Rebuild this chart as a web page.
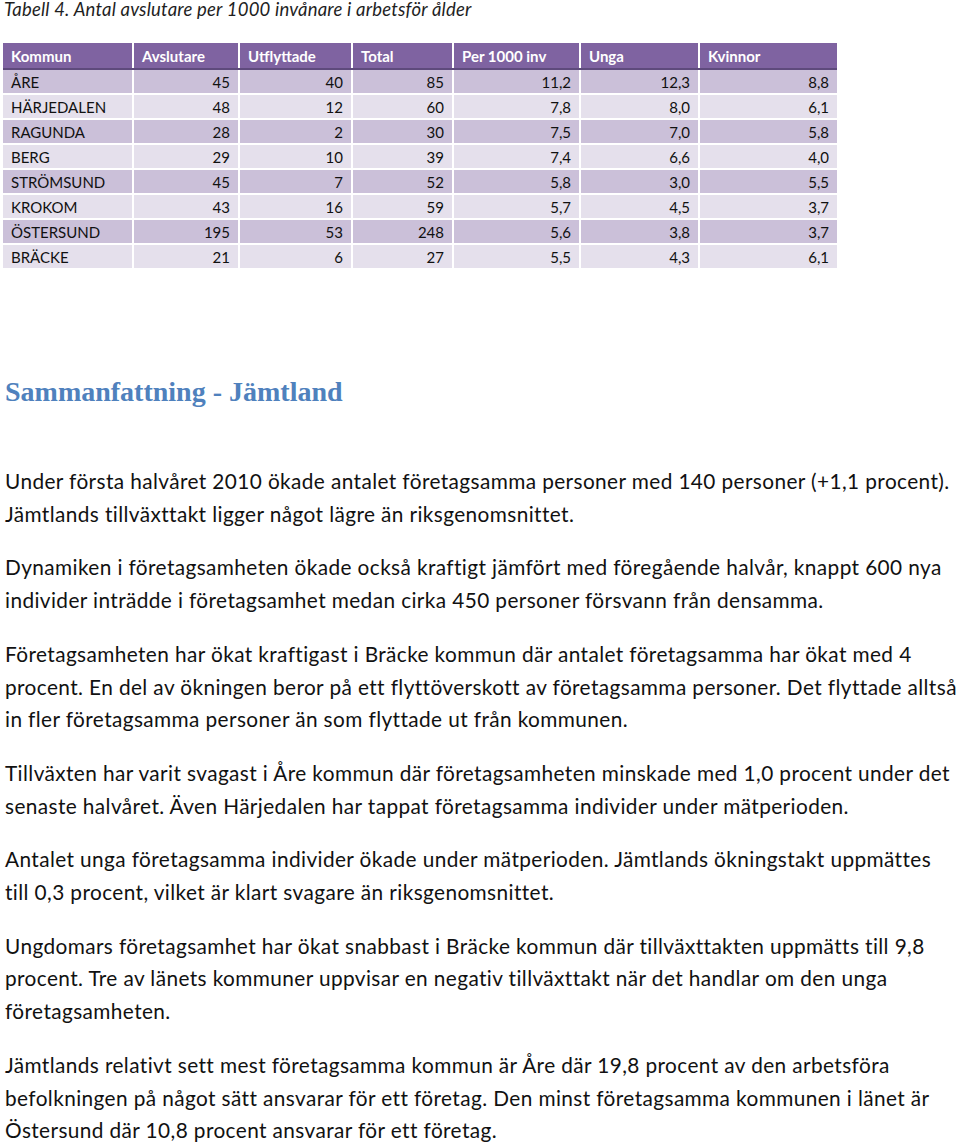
<!DOCTYPE html>
<html>
<head>
  <meta charset="utf-8">
  <title>Tabell 4 - Jämtland</title>
  <script src="https://cdn.jsdelivr.net/npm/chart.js"></script>
  <style>
    body {
      margin: 0;
      width: 960px;
      height: 1147px;
      background: #fff;
      color: #111;
      font-family: Lato, 'Open Sans', sans-serif;
      position: relative;
      overflow: hidden;
    }
    .caption {
      position: absolute;
      left: 4px;
      top: -1px;
      font-style: italic;
      font-size: 18.5px;
      line-height: 20px;
      color: #1f1f1f;
      letter-spacing: 0.2px;
    }
    table {
      position: absolute;
      left: 3px;
      top: 43px;
      border-collapse: collapse;
      font-size: 15px;
      table-layout: fixed;
    }
    th, td {
      padding: 0 8px;
      border-left: 2px solid #fff;
      border-top: 2px solid #fff;
      white-space: nowrap;
    }
    th:first-child, td:first-child { border-left: none; }
    th {
      background: #7f63a1;
      color: #fff;
      text-align: left;
      height: 25px;
      border-top: none;
      border-bottom: 2px solid #5e4a7c;
    }
    td { height: 23px; text-align: right; }
    td:first-child { text-align: left; }
    tr.odd td { background: #cbc0d9; }
    tr.even td { background: #e5e0ec; }
    h2 {
      position: absolute;
      left: 5px;
      top: 376px;
      margin: 0;
      font-family: 'Liberation Serif', 'DejaVu Serif', serif;
      font-size: 28px;
      color: #4f81bd;
    }
    .text {
      position: absolute;
      left: 5px;
      top: 465px;
      font-size: 20.8px;
      letter-spacing: 0.4px;
      line-height: 32.7px;
    }
    .text p { margin: 0 0 21px 0; white-space: nowrap; }
  </style>
</head>
<body>
  <div class="caption">Tabell 4. Antal avslutare per 1000 invånare i arbetsför ålder</div>
  <table id="tbl"></table>

  <h2>Sammanfattning - Jämtland</h2>

  <div class="text">
    <p>Under första halvåret 2010 ökade antalet företagsamma personer med 140 personer (+1,1 procent).<br>Jämtlands tillväxttakt ligger något lägre än riksgenomsnittet.</p>
    <p>Dynamiken i företagsamheten ökade också kraftigt jämfört med föregående halvår, knappt 600 nya<br>individer inträdde i företagsamhet medan cirka 450 personer försvann från densamma.</p>
    <p>Företagsamheten har ökat kraftigast i Bräcke kommun där antalet företagsamma har ökat med 4<br>procent. En del av ökningen beror på ett flyttöverskott av företagsamma personer. Det flyttade alltså<br>in fler företagsamma personer än som flyttade ut från kommunen.</p>
    <p>Tillväxten har varit svagast i Åre kommun där företagsamheten minskade med 1,0 procent under det<br>senaste halvåret. Även Härjedalen har tappat företagsamma individer under mätperioden.</p>
    <p>Antalet unga företagsamma individer ökade under mätperioden. Jämtlands ökningstakt uppmättes<br>till 0,3 procent, vilket är klart svagare än riksgenomsnittet.</p>
    <p>Ungdomars företagsamhet har ökat snabbast i Bräcke kommun där tillväxttakten uppmätts till 9,8<br>procent. Tre av länets kommuner uppvisar en negativ tillväxttakt när det handlar om den unga<br>företagsamheten.</p>
    <p>Jämtlands relativt sett mest företagsamma kommun är Åre där 19,8 procent av den arbetsföra<br>befolkningen på något sätt ansvarar för ett företag. Den minst företagsamma kommunen i länet är<br>Östersund där 10,8 procent ansvarar för ett företag.</p>
  </div>

  <script>
    const headers = ['Kommun', 'Avslutare', 'Utflyttade', 'Total', 'Per 1000 inv', 'Unga', 'Kvinnor'];
    const kommuner = ['ÅRE', 'HÄRJEDALEN', 'RAGUNDA', 'BERG', 'STRÖMSUND', 'KROKOM', 'ÖSTERSUND', 'BRÄCKE'];
    const avslutare = [45, 48, 28, 29, 45, 43, 195, 21];
    const utflyttade = [40, 12, 2, 10, 7, 16, 53, 6];
    const total = [85, 60, 30, 39, 52, 59, 248, 27];
    const per1000 = [11.2, 7.8, 7.5, 7.4, 5.8, 5.7, 5.6, 5.5];
    const unga = [12.3, 8.0, 7.0, 6.6, 3.0, 4.5, 3.8, 4.3];
    const kvinnor = [8.8, 6.1, 5.8, 4.0, 5.5, 3.7, 3.7, 6.1];

    const colWidths = [130, 106, 113, 101, 127, 119, 138];

    // svensk decimalkomma
    function dec(v) {
      return v.toFixed(1).replace('.', ',');
    }

    const tbl = document.getElementById('tbl');
    let html = '<colgroup>' + colWidths.map(w => `<col style="width:${w}px">`).join('') + '</colgroup>';
    html += '<tr>' + headers.map(h => `<th>${h}</th>`).join('') + '</tr>';
    kommuner.forEach((k, i) => {
      const cells = [k, avslutare[i], utflyttade[i], total[i], dec(per1000[i]), dec(unga[i]), dec(kvinnor[i])];
      html += `<tr class="${i % 2 === 0 ? 'odd' : 'even'}">` + cells.map(c => `<td>${c}</td>`).join('') + '</tr>';
    });
    tbl.innerHTML = html;
  </script>
</body>
</html>
